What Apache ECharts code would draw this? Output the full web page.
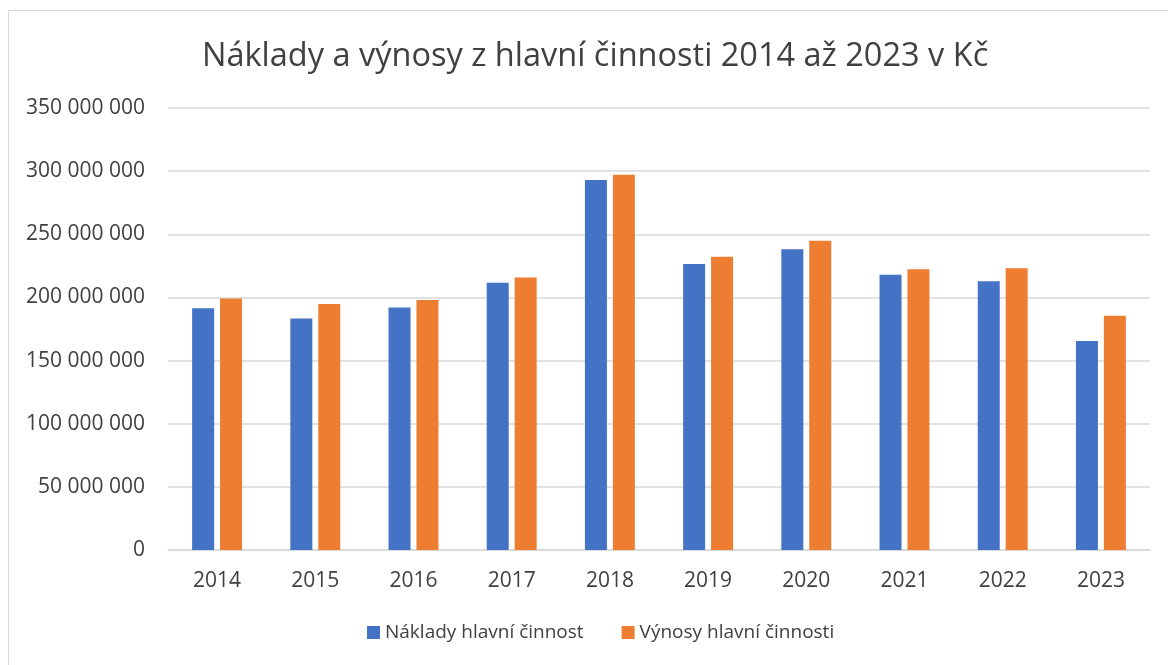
<!DOCTYPE html>
<html>
<head>
<meta charset="utf-8">
<script src="https://cdn.jsdelivr.net/npm/echarts@6/dist/echarts.min.js"></script>
<style>
html,body{margin:0;padding:0;background:#fff;}
#frame{position:absolute;left:8px;top:10px;width:1170px;height:670px;border:1px solid #D9D9D9;box-sizing:border-box;}
#c{position:absolute;left:0;top:0;width:1168px;height:665px;}
</style>
</head>
<body>
<div id="frame"></div>
<div id="c"></div>
<script>
const categories = ['2014','2015','2016','2017','2018','2019','2020','2021','2022','2023'];
const naklady = [191500000,183300000,192000000,211600000,292900000,226400000,238200000,217900000,212900000,165400000];
const vynosy = [199100000,194700000,197900000,215800000,297100000,232200000,244800000,222400000,223200000,185400000];
const yTicks = { min: 0, max: 350000000, interval: 50000000 };
const titleText = 'Náklady a výnosy z hlavní činnosti 2014 až 2023 v Kč';
const seriesNames = ['Náklady hlavní činnost','Výnosy hlavní činnosti'];

const fmt = v => String(v).replace(/\B(?=(\d{3})+(?!\d))/g, ' ');
const font = '"Open Sans", sans-serif';
const chart = echarts.init(document.getElementById('c'), null, {renderer:'canvas'});
chart.setOption({
  backgroundColor: 'transparent',
  animation: false,
  title: {
    text: titleText, left: 197, top: 35,
    textStyle: { fontFamily: font, fontSize: 32.5, fontWeight: 'normal', color: '#404040' }
  },
  legend: {
    top: 618, left: 362, itemWidth: 13, itemHeight: 13, itemGap: 38,
    icon: 'rect',
    textStyle: { fontFamily: font, fontSize: 19, color: '#404040' },
    data: seriesNames
  },
  grid: { left: 168, right: 18, top: 108, bottom: 115 },
  xAxis: {
    type: 'category', data: categories,
    axisLine: { show: true, lineStyle: { color: '#D9D9D9', width: 1.5 } },
    axisTick: { show: false },
    axisLabel: { fontFamily: font, fontSize: 21, color: '#404040', margin: 21 }
  },
  yAxis: {
    type: 'value', min: yTicks.min, max: yTicks.max, interval: yTicks.interval,
    axisLine: { show: false }, axisTick: { show: false },
    splitLine: { lineStyle: { color: '#D9D9D9', width: 1.5 } },
    axisLabel: { fontFamily: font, fontSize: 21, color: '#404040', margin: 23, formatter: fmt }
  },
  series: [
    { name: seriesNames[0], type: 'bar', data: naklady, barWidth: 22, barGap: '27%',
      itemStyle: { color: '#4472C4' } },
    { name: seriesNames[1], type: 'bar', data: vynosy, barWidth: 22,
      itemStyle: { color: '#ED7D31' } }
  ]
});
</script>
</body>
</html>
